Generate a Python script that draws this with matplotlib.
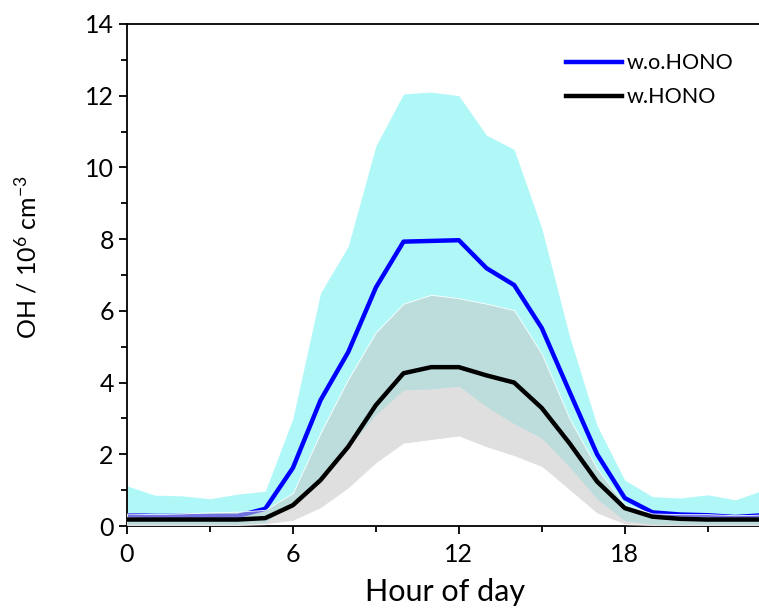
import matplotlib
matplotlib.use("Agg")
import matplotlib.pyplot as plt
from matplotlib.ticker import MultipleLocator

hours = list(range(24))

# w.o.HONO (blue) mean and envelope
wo_mean = [0.30, 0.28, 0.28, 0.28, 0.28, 0.48, 1.62, 3.51, 4.85, 6.65, 7.93, 7.95, 7.97,
           7.19, 6.72, 5.52, 3.75, 2.00, 0.78, 0.38, 0.32, 0.30, 0.25, 0.30]
wo_upper = [1.12, 0.86, 0.84, 0.76, 0.89, 0.97, 3.00, 6.50, 7.80, 10.60, 12.05, 12.10, 12.00,
            10.90, 10.50, 8.30, 5.30, 2.80, 1.28, 0.82, 0.78, 0.87, 0.73, 1.00]
wo_lower = [0.05, 0.05, 0.05, 0.05, 0.05, 0.10, 0.65, 1.30, 2.20, 3.10, 3.80, 3.82, 3.90,
            3.33, 2.85, 2.45, 1.65, 0.75, 0.15, 0.05, 0.05, 0.05, 0.05, 0.05]

# w.HONO (black) mean and envelope
w_mean = [0.18, 0.18, 0.18, 0.18, 0.18, 0.22, 0.58, 1.28, 2.21, 3.37, 4.26, 4.43, 4.43,
          4.20, 4.00, 3.29, 2.31, 1.24, 0.50, 0.26, 0.20, 0.18, 0.18, 0.18]
w_upper = [0.35, 0.33, 0.35, 0.38, 0.40, 0.45, 0.92, 2.60, 4.10, 5.40, 6.20, 6.45, 6.35,
           6.20, 6.02, 4.80, 3.00, 1.60, 0.60, 0.35, 0.33, 0.33, 0.30, 0.32]
w_lower = [0.03, 0.03, 0.03, 0.03, 0.03, 0.05, 0.15, 0.50, 1.05, 1.75, 2.30, 2.40, 2.50,
           2.20, 1.95, 1.65, 1.00, 0.35, 0.05, 0.03, 0.03, 0.03, 0.03, 0.03]

plt.rcParams['font.family'] = ['Lato', 'DejaVu Sans']
plt.rcParams['mathtext.fontset'] = 'custom'
plt.rcParams['mathtext.rm'] = 'Lato'
plt.rcParams['mathtext.it'] = 'Lato:italic'
plt.rcParams['mathtext.bf'] = 'Lato:bold'

fig = plt.figure(figsize=(7.59, 6.10), dpi=100)
ax = fig.add_axes([0.1673, 0.1377, 0.838, 0.823])

ax.fill_between(hours, wo_lower, wo_upper, color='#b0f8f8', linewidth=0, zorder=1)
ax.plot(hours, wo_mean, color='#0000ff', linewidth=3.2, zorder=2, label='w.o.HONO')
ax.fill_between(hours, w_lower, w_upper, facecolor=(200/255, 200/255, 200/255, 0.57),
                edgecolor='white', linewidth=0.6, zorder=3)
ax.plot(hours, w_mean, color='black', linewidth=3.2, zorder=4, label='w.HONO')

ax.set_xlim(0, 23)
ax.set_ylim(0, 14)
ax.xaxis.set_major_locator(MultipleLocator(6))
ax.xaxis.set_minor_locator(MultipleLocator(3))
ax.yaxis.set_major_locator(MultipleLocator(2))
ax.yaxis.set_minor_locator(MultipleLocator(1))

for s in ['left', 'bottom', 'top', 'right']:
    ax.spines[s].set_linewidth(1.3)
ax.spines['right'].set_visible(False)

ax.tick_params(which='major', direction='out', length=6, width=1.3, labelsize=18,
               top=False, right=False)
ax.tick_params(which='minor', direction='out', length=4, width=1.3, top=False, right=False)
ax.tick_params(axis='x', pad=6)

ax.set_xlabel('Hour of day', fontsize=22, labelpad=9)
ax.set_ylabel(r'OH / 10$^{\mathregular{6}}$ cm$^{\mathregular{-3}}$', fontsize=18)
ax.yaxis.set_label_coords(-0.137, 0.535)

leg = ax.legend(loc='upper left', bbox_to_anchor=(0.66, 0.98), frameon=False,
                fontsize=15.5, handlelength=2.6, handletextpad=0.2, labelspacing=0.65)

fig.savefig('out.png', dpi=100)
